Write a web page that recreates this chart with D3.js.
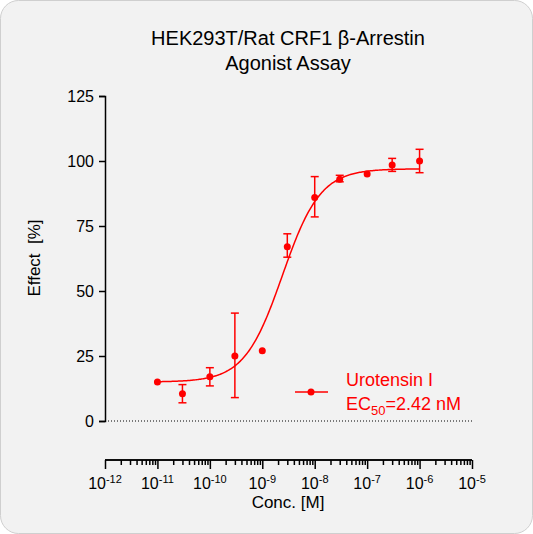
<!DOCTYPE html>
<html><head><meta charset="utf-8">
<script src="https://cdn.jsdelivr.net/npm/d3@7"></script>
<style>body{margin:0;background:#fff;font-family:Arial,"Liberation Sans",sans-serif}</style>
</head><body><svg id="c" width="533" height="534"></svg>
<script>
// data
var conc = [1e-11, 3e-11, 1e-10, 3e-10, 1e-9, 3e-9, 1e-8, 3e-8, 1e-7, 3e-7, 1e-6];
var effect = [15, 10.5, 17, 25, 27, 67, 86, 93, 95, 98.5, 100];
var errLo = [15, 7, 13.5, 9, 27, 63, 78.5, 92, 95, 96, 95.5];
var errHi = [15, 14, 20.5, 41.5, 27, 72, 94, 94.5, 95, 101, 104.5];
var fitParams = [15, 97, 2.42e-9, 1.2]; // bottom, top, EC50, hill
var yTicks = [0, 25, 50, 75, 100, 125];
var xDecades = [-12, -11, -10, -9, -8, -7, -6, -5];
var red = '#ff0000';

var svg = d3.select('#c');
svg.append('rect').attr('x', 0.5).attr('y', 0.5).attr('width', 532).attr('height', 533)
  .attr('rx', 18).attr('fill', '#f2f2f2').attr('stroke', '#cfcfcf');

var x = d3.scaleLog().domain([1e-12, 1e-5]).range([105, 472]);
var y = d3.scaleLinear().domain([0, 125]).range([421, 96]);

// title
svg.append('text').attr('x', 288).attr('y', 45).attr('text-anchor', 'middle')
  .attr('font-size', 20).text('HEK293T/Rat CRF1 β-Arrestin');
svg.append('text').attr('x', 288).attr('y', 70).attr('text-anchor', 'middle')
  .attr('font-size', 20).text('Agonist Assay');

// y axis
var ya = svg.append('g').attr('transform', 'translate(105,0)')
  .call(d3.axisLeft(y).tickValues(yTicks).tickSize(6).tickPadding(5));
ya.selectAll('text').attr('font-size', 16).attr('font-family', 'Arial,Liberation Sans').attr('fill', '#000');
ya.selectAll('line,path').attr('stroke', '#000').attr('stroke-width', 1.5);
svg.append('text').attr('transform', 'translate(40,258) rotate(-90)').attr('text-anchor', 'middle')
  .attr('font-size', 17).attr('xml:space', 'preserve').text('Effect  [%]');

// x axis
var xAxisY = 460;
var minor = [];
xDecades.slice(0, -1).forEach(function (d) {
  for (var k = 2; k <= 9; k++) minor.push(k * Math.pow(10, d));
});
var xg = svg.append('g').attr('transform', 'translate(0,' + xAxisY + ')');
xg.call(d3.axisBottom(x).tickValues(minor).tickSize(5).tickFormat(''));
xg.append('g').call(d3.axisBottom(x).tickValues(xDecades.map(function (d) { return Math.pow(10, d); }))
  .tickSize(9).tickFormat(''));
xg.selectAll('line,path').attr('stroke', '#000').attr('stroke-width', 1.5);
xg.selectAll('path.domain').attr('d', 'M105,0H472');
xDecades.forEach(function (d) {
  var t = svg.append('text').attr('x', x(Math.pow(10, d))).attr('y', xAxisY + 29)
    .attr('text-anchor', 'middle').attr('font-size', 16);
  t.append('tspan').text('10');
  t.append('tspan').attr('dy', -6).attr('font-size', 11).text(d);
});
svg.append('text').attr('x', 288).attr('y', xAxisY + 48).attr('text-anchor', 'middle')
  .attr('font-size', 17).text('Conc. [M]');

// zero line
svg.append('line').attr('x1', 105).attr('x2', 472).attr('y1', y(0)).attr('y2', y(0))
  .attr('stroke', '#000').attr('stroke-dasharray', '1,2');

// fit curve
function fit(c) {
  var p = fitParams;
  return p[0] + (p[1] - p[0]) / (1 + Math.pow(p[2] / c, p[3]));
}
var curve = d3.range(-11, -5.99, 0.02).map(function (l) { return Math.pow(10, l); });
svg.append('path').datum(curve).attr('fill', 'none').attr('stroke', red).attr('stroke-width', 1.5)
  .attr('d', d3.line().x(function (c) { return x(c); }).y(function (c) { return y(fit(c)); }));

// error bars and points
var g = svg.append('g').attr('stroke', red).attr('stroke-width', 1.5);
conc.forEach(function (c, i) {
  if (errHi[i] - errLo[i] < 0.5) return;
  var cx = x(c);
  g.append('line').attr('x1', cx).attr('x2', cx).attr('y1', y(errLo[i])).attr('y2', y(errHi[i]));
  g.append('line').attr('x1', cx - 4).attr('x2', cx + 4).attr('y1', y(errLo[i])).attr('y2', y(errLo[i]));
  g.append('line').attr('x1', cx - 4).attr('x2', cx + 4).attr('y1', y(errHi[i])).attr('y2', y(errHi[i]));
});
svg.selectAll('circle.pt').data(conc).enter().append('circle')
  .attr('cx', function (c) { return x(c); }).attr('cy', function (c, i) { return y(effect[i]); })
  .attr('r', 3.5).attr('fill', red);

// legend
svg.append('line').attr('x1', 295).attr('x2', 328).attr('y1', 392).attr('y2', 392)
  .attr('stroke', red).attr('stroke-width', 1.5);
svg.append('circle').attr('cx', 311).attr('cy', 392).attr('r', 3.5).attr('fill', red);
svg.append('text').attr('x', 346).attr('y', 386).attr('font-size', 18).attr('fill', red).text('Urotensin I');
var lt = svg.append('text').attr('x', 346).attr('y', 410).attr('font-size', 18).attr('fill', red);
lt.append('tspan').text('EC');
lt.append('tspan').attr('dy', 5).attr('font-size', 13).text('50');
lt.append('tspan').attr('dy', -5).text('=2.42 nM');
</script></body></html>
